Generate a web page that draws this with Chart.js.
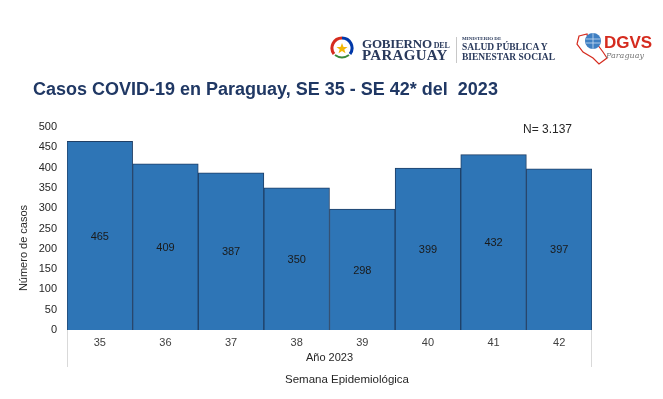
<!DOCTYPE html>
<html>
<head>
<meta charset="utf-8">
<script src="https://cdn.jsdelivr.net/npm/chart.js@4"></script>
<style>
  body { margin: 0; background: #fff; font-family: "Liberation Sans", Arial, sans-serif; }
  #wrap { position: relative; width: 663px; height: 399px; overflow: hidden; }
  #grafico { position: absolute; left: 0; top: 0; }
  .txt { position: absolute; white-space: nowrap; }
  .serif { font-family: "Liberation Serif", "DejaVu Serif", serif; font-weight: bold; color: #2a3a5c; }
</style>
</head>
<body>
<div id="wrap">
  <canvas id="grafico" width="663" height="399"></canvas>

  <!-- cabecera / logos -->
  <svg class="txt" style="left:330px;top:36px" width="24" height="24" viewBox="0 0 24 24">
    <path d="M12 2 A10 10 0 0 0 4 18" stroke="#d52b1e" stroke-width="3" fill="none"/>
    <path d="M12 2 A10 10 0 0 1 20 18" stroke="#0038a8" stroke-width="3" fill="none"/>
    <path d="M5 19 Q12 24 19 19" stroke="#3a8a3a" stroke-width="2" fill="none"/>
    <polygon points="12,7 13.5,11 17.5,11 14.3,13.4 15.5,17.3 12,15 8.5,17.3 9.7,13.4 6.5,11 10.5,11" fill="#f2b705"/>
  </svg>
  <div class="txt serif" style="left:362px;top:36px;font-size:13px;letter-spacing:-0.2px">GOBIERNO<span style="font-size:8px"> DEL</span></div>
  <div class="txt serif" style="left:362px;top:47px;font-size:15px;letter-spacing:0.3px">PARAGUAY</div>
  <div class="txt" style="left:456px;top:37px;width:1px;height:26px;background:#c8c8c8"></div>
  <div class="txt serif" style="left:462px;top:36px;font-size:5px">MINISTERIO DE</div>
  <div class="txt serif" style="left:462px;top:42px;font-size:9.5px">SALUD PÚBLICA Y</div>
  <div class="txt serif" style="left:462px;top:52px;font-size:9.5px">BIENESTAR SOCIAL</div>
  <svg class="txt" style="left:573px;top:28px" width="50" height="40" viewBox="0 0 50 40">
    <path d="M6 8 L14 6 L16 14 L24 16 L30 24 L34 30 L26 36 L20 30 L10 24 L4 16 Z" stroke="#d52b1e" stroke-width="1.2" fill="none"/>
    <circle cx="20" cy="13" r="8" fill="#3f7fc2"/>
    <path d="M13 11 H27 M13 15 H27 M20 5 V21" stroke="#c9ddf2" stroke-width="0.8"/>
  </svg>
  <div class="txt" style="left:604px;top:33px;font-size:17px;font-weight:bold;color:#d52b1e">DGVS</div>
  <div class="txt" style="left:606px;top:51px;font-size:8px;font-style:italic;color:#777;font-family:'DejaVu Serif',serif">Paraguay</div>

  <div class="txt" style="left:33px;top:79px;font-size:18px;font-weight:bold;color:#203864">Casos COVID-19 en Paraguay, SE 35 - SE 42* del&nbsp; 2023</div>
  <div class="txt" style="left:523px;top:122px;font-size:12px;color:#262626">N= 3.137</div>
  <div class="txt" style="left:285px;top:373px;font-size:11.5px;color:#262626">Semana Epidemiológica</div>
  <div class="txt" style="left:-22px;top:242px;width:90px;text-align:center;font-size:11px;color:#262626;transform:rotate(-90deg)">Número de casos</div>
</div>

<script>
const semanas = ['35', '36', '37', '38', '39', '40', '41', '42'];
const casos = [465, 409, 387, 350, 298, 399, 432, 397];
const ticksY = [0, 50, 100, 150, 200, 250, 300, 350, 400, 450, 500];

// etiqueta en el medio de cada barra + lineas del grupo "Año 2023"
const etiquetas = {
  id: 'etiquetas',
  afterDatasetsDraw(chart) {
    const ctx = chart.ctx;
    const meta = chart.getDatasetMeta(0);
    const y = chart.scales.y;
    ctx.save();
    ctx.font = '11px "Liberation Sans", Arial, sans-serif';
    ctx.fillStyle = '#1a1a1a';
    ctx.textAlign = 'center';
    ctx.textBaseline = 'middle';
    meta.data.forEach((bar, i) => {
      ctx.fillText(casos[i], bar.x, y.getPixelForValue(casos[i] / 2) + 1);
    });
    const a = chart.chartArea;
    ctx.strokeStyle = '#d9d9d9';
    ctx.lineWidth = 1;
    ctx.beginPath();
    ctx.moveTo(a.left + 0.5, a.bottom);
    ctx.lineTo(a.left + 0.5, a.bottom + 37);
    ctx.moveTo(a.right - 0.5, a.bottom);
    ctx.lineTo(a.right - 0.5, a.bottom + 37);
    ctx.stroke();
    ctx.restore();
  }
};

new Chart(document.getElementById('grafico'), {
  type: 'bar',
  data: {
    labels: semanas,
    datasets: [{
      data: casos,
      backgroundColor: '#2e75b6',
      borderColor: '#1f3f66',
      borderWidth: 1,
      barPercentage: 1,
      categoryPercentage: 1
    }]
  },
  options: {
    responsive: false,
    animation: false,
    layout: { padding: { left: 0, right: 71, top: 127, bottom: 25 } },
    plugins: { legend: { display: false }, tooltip: { enabled: false } },
    scales: {
      x: {
        grid: { display: false, drawTicks: false },
        border: { display: false },
        ticks: { color: '#404040', font: { size: 11 }, padding: 6 },
        title: { display: true, text: 'Año 2023', color: '#262626', font: { size: 11 }, padding: { top: 2, bottom: 9 } },
        afterFit(s) { s.height = 44; }
      },
      y: {
        min: 0,
        max: 500,
        afterBuildTicks(s) { s.ticks = ticksY.map(v => ({ value: v })); },
        grid: { display: false, drawTicks: false },
        border: { display: false },
        ticks: { color: '#262626', font: { size: 11 }, padding: 10 },
        afterFit(s) { s.width = 67; }
      }
    }
  },
  plugins: [etiquetas]
});
</script>
</body>
</html>
